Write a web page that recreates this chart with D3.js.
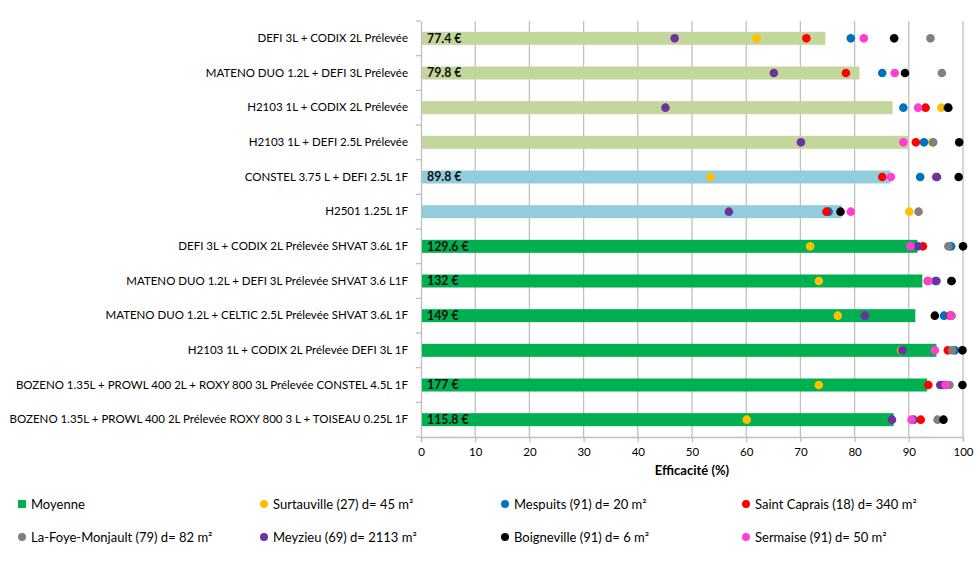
<!DOCTYPE html>
<html>
<head>
<meta charset="utf-8">
<script src="https://cdn.jsdelivr.net/npm/d3@7"></script>
<style>
  html, body { margin: 0; padding: 0; background: #fff; }
  svg { display: block; font-family: Lato, "Open Sans", sans-serif; }
</style>
</head>
<body>
<svg id="chart" width="980" height="561"></svg>
<script>
// ---- data ----
const categories = [
  "DEFI 3L + CODIX 2L Prélevée",
  "MATENO DUO 1.2L + DEFI 3L Prélevée",
  "H2103 1L + CODIX 2L Prélevée",
  "H2103 1L + DEFI 2.5L Prélevée",
  "CONSTEL 3.75 L + DEFI 2.5L 1F",
  "H2501 1.25L 1F",
  "DEFI 3L + CODIX 2L Prélevée SHVAT 3.6L 1F",
  "MATENO DUO 1.2L + DEFI 3L Prélevée SHVAT 3.6 L1F",
  "MATENO DUO 1.2L + CELTIC 2.5L Prélevée SHVAT 3.6L 1F",
  "H2103 1L + CODIX 2L Prélevée DEFI 3L 1F",
  "BOZENO 1.35L + PROWL 400 2L + ROXY 800 3L Prélevée CONSTEL 4.5L 1F",
  "BOZENO 1.35L + PROWL 400 2L Prélevée ROXY 800 3 L + TOISEAU 0.25L 1F"
];
const costLabels = ["77.4 €", "79.8 €", "", "", "89.8 €", "", "129.6 €", "132 €", "149 €", "", "177 €", "115.8 €"];
const barGroup = ["pre", "pre", "pre", "pre", "post", "post", "mix", "mix", "mix", "mix", "mix", "mix"];

const moyenne       = [74.6, 80.9, 87.0, 89.9, 86.6, 77.6, 91.6, 92.5, 91.2, 95.1, 93.4, 87.2];
const surtauville   = [61.9, null, 96.0, 94.3, 53.4, 90.1, 71.8, 73.4, 76.9, 88.6, 73.4, 60.1];
const mespuits      = [79.3, 85.1, 89.0, 92.8, 92.1, 75.2, 97.8, 94.9, 96.5, 98.5, 96.4, 90.9];
const saintCaprais  = [71.1, 78.4, 93.1, 91.3, 85.1, 74.8, 92.6, 93.5, 97.6, 97.2, 93.6, 92.2];
const laFoye        = [94.0, 96.1, 97.1, 94.5, 95.0, 91.8, 97.3, 97.8, 97.9, 98.0, 97.5, 95.3];
const meyzieu       = [46.8, 65.1, 45.1, 70.1, 95.2, 56.8, 91.7, 95.1, 81.9, 88.8, 95.8, 86.9];
const boigneville   = [87.3, 89.3, 97.3, 99.3, 99.2, 77.4, 100, 97.9, 94.8, 99.9, 99.9, 96.4];
const sermaise      = [81.7, 87.4, 91.7, 89.0, 86.7, 79.3, 90.3, 93.6, 97.8, 94.8, 96.8, 90.5];

const xTicks = [0, 10, 20, 30, 40, 50, 60, 70, 80, 90, 100];
const xTitle = "Efficacité (%)";

const seriesNames = [
  "Surtauville (27) d= 45 m²",
  "Mespuits (91) d= 20 m²",
  "Saint Caprais (18) d= 340 m²",
  "La-Foye-Monjault (79) d= 82 m²",
  "Meyzieu (69) d= 2113 m²",
  "Boigneville (91) d= 6 m²",
  "Sermaise (91) d= 50 m²"
];
const seriesValues = [surtauville, mespuits, saintCaprais, laFoye, meyzieu, boigneville, sermaise];
const seriesColors = ["#ffc000", "#0070c0", "#ff0000", "#808080", "#7030a0", "#000000", "#ff3fd2"];
const barColors = { pre: "#c3d69b", post: "#93cddd", mix: "#00b050" };
const meanName = "Moyenne";

// ---- layout ----
const svg = d3.select("#chart");
const plotL = 421, plotR = 963, plotT = 21, plotB = 437;

const x = d3.scaleLinear().domain([0, 100]).range([plotL, plotR]);
const y = d3.scaleBand().domain(categories).range([plotT, plotB]).padding(0);
const barH = 13;

// gridlines
svg.append("g").selectAll("line").data(xTicks.slice(1)).join("line")
  .attr("x1", d => x(d)).attr("x2", d => x(d))
  .attr("y1", plotT).attr("y2", plotB)
  .attr("stroke", "#bfbfbf").attr("stroke-width", 1.3);

// x axis
const xAxis = svg.append("g").attr("transform", `translate(0,${plotB})`)
  .call(d3.axisBottom(x).tickValues(xTicks).tickSize(5).tickPadding(6));
xAxis.select(".domain").attr("stroke", "#bfbfbf").attr("stroke-width", 1.3);
xAxis.selectAll(".tick line").attr("stroke", "#bfbfbf").attr("stroke-width", 1.3);
xAxis.selectAll("text").attr("font-size", 11.5).attr("fill", "#000")
  .style("font-family", "Lato, sans-serif");

svg.append("text").attr("x", (plotL + plotR) / 2).attr("y", 475)
  .attr("text-anchor", "middle").attr("font-size", 13).attr("font-weight", "bold")
  .text(xTitle);

// y axis
const yAxis = svg.append("g").attr("transform", `translate(${plotL},0)`)
  .call(d3.axisLeft(y).tickSize(0).tickPadding(13));
yAxis.select(".domain").attr("stroke", "#bfbfbf").attr("stroke-width", 1.3);
yAxis.selectAll("text").attr("font-size", 11.5).attr("fill", "#000")
  .style("font-family", "Lato, sans-serif");
// boundary ticks
const bounds = categories.map(c => y(c)).concat([plotB]);
svg.append("g").selectAll("line").data(bounds).join("line")
  .attr("x1", plotL - 5).attr("x2", plotL)
  .attr("y1", d => d).attr("y2", d => d)
  .attr("stroke", "#bfbfbf").attr("stroke-width", 1.3);

// bars
svg.append("g").selectAll("rect").data(categories).join("rect")
  .attr("x", x(0) + 1)
  .attr("y", d => y(d) + y.bandwidth() / 2 - barH / 2)
  .attr("width", (d, i) => x(moyenne[i]) - x(0) - 1)
  .attr("height", barH)
  .attr("fill", (d, i) => barColors[barGroup[i]]);

// cost labels
svg.append("g").selectAll("text").data(categories).join("text")
  .attr("x", x(0) + 6)
  .attr("y", d => y(d) + y.bandwidth() / 2)
  .attr("dy", "0.36em")
  .attr("font-size", 12.3).attr("font-weight", "bold").attr("fill", "#111")
  .text((d, i) => costLabels[i]);

// dots
seriesValues.forEach((vals, s) => {
  svg.append("g").selectAll("circle")
    .data(categories.map((c, i) => ({ c, v: vals[i] })).filter(d => d.v != null))
    .join("circle")
    .attr("cx", d => x(d.v))
    .attr("cy", d => y(d.c) + y.bandwidth() / 2)
    .attr("r", 4.3)
    .attr("fill", seriesColors[s]);
});

// legend
const legendItems = [{ name: meanName, color: barColors.mix, square: true }]
  .concat(seriesNames.map((n, i) => ({ name: n, color: seriesColors[i], square: false })));
const colX = [22, 264, 505, 746];
const rowY = [504, 537];
const lg = svg.append("g").selectAll("g").data(legendItems).join("g")
  .attr("transform", (d, i) => `translate(${colX[i % 4]},${rowY[Math.floor(i / 4)]})`);
lg.filter(d => d.square).append("rect")
  .attr("x", -4).attr("y", -4).attr("width", 8).attr("height", 8).attr("fill", d => d.color);
lg.filter(d => !d.square).append("circle")
  .attr("r", 4).attr("fill", d => d.color);
lg.append("text").attr("x", 9).attr("dy", "0.36em")
  .attr("font-size", 13).attr("fill", "#000").text(d => d.name);
</script>
</body>
</html>
